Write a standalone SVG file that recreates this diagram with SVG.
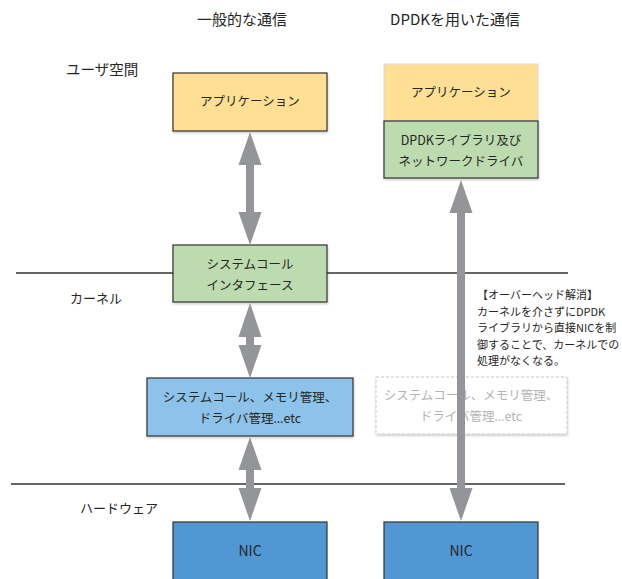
<svg xmlns="http://www.w3.org/2000/svg" width="622" height="579" viewBox="0 0 622 579">
<style>
text{font-family:"Noto Sans CJK JP","Noto Sans",sans-serif;fill:#262626}
.t{font-size:15px;text-anchor:middle}
.lbl{font-size:13px}
.b{font-size:12.5px;text-anchor:middle}
.n{font-size:11px}
.el{font-family:"Noto Sans",sans-serif}
.box{stroke:#333;stroke-width:1.2}
.arr{fill:#939598}
.ln{stroke:#333;stroke-width:1.3}
</style>
<defs>
<filter id="sh" x="-10%" y="-10%" width="130%" height="140%"><feDropShadow dx="0.5" dy="1.5" stdDeviation="1.2" flood-color="#000" flood-opacity="0.2"/></filter>
</defs>
<rect width="622" height="579" fill="#fff"/>
<text class="t" x="242" y="25">一般的な通信</text>
<text class="t" x="455" y="25">DPDKを用いた通信</text>
<text class="lbl" x="66" y="75" style="font-size:14.5px">ユーザ空間</text>
<text class="lbl" x="70" y="303">カーネル</text>
<text class="lbl" x="80" y="513">ハードウェア</text>
<g id="lines">
<line class="ln" x1="16" y1="273" x2="568" y2="273"/>
<line class="ln" x1="11" y1="484" x2="565" y2="484"/>
</g>
<g id="app-left"><rect class="box" x="173" y="73" width="154" height="58" fill="#FEDF94" filter="url(#sh)"/><text class="b" x="250" y="106">アプリケーション</text></g>
<g id="app-right"><rect x="384" y="64" width="154" height="57" fill="#FEDF94" stroke="#d9d9d9" stroke-width="1"/><text class="b" x="461" y="97">アプリケーション</text></g>
<g id="dpdk"><rect class="box" x="384" y="121" width="154" height="57" fill="#BCDCB0" filter="url(#sh)"/><text class="b" x="461" y="145">DPDKライブラリ及び</text><text class="b" x="461" y="166">ネットワークドライバ</text></g>
<g id="syscall"><rect class="box" x="173" y="245" width="154" height="57" fill="#BCDCB0" filter="url(#sh)"/><text class="b" x="250" y="269">システムコール</text><text class="b" x="250" y="290">インタフェース</text></g>
<g id="kernel"><rect class="box" x="147" y="378" width="206" height="58" fill="#8DC3EA" filter="url(#sh)"/><text class="b" x="250" y="402">システムコール、メモリ管理、</text><text class="b" x="250" y="423">ドライバ管理<tspan class="el">…</tspan>etc</text></g>
<g id="kernel-ghost"><rect x="376" y="377" width="191" height="57" fill="#fff" stroke="#c8c8c8" stroke-width="1" stroke-dasharray="3,2" filter="url(#sh)"/><text class="b" x="471" y="400" style="fill:#b4b4b4">システムコール、メモリ管理、</text><text class="b" x="471" y="421" style="fill:#b4b4b4">ドライバ管理<tspan class="el" style="fill:#b4b4b4">…</tspan>etc</text></g>
<g id="nic-left"><rect class="box" x="173" y="522" width="154" height="62" fill="#5197D3"/><text class="b" x="250" y="556" style="font-size:14px">NIC</text></g>
<g id="nic-right"><rect class="box" x="384" y="522" width="154" height="62" fill="#5197D3"/><text class="b" x="461" y="556" style="font-size:14px">NIC</text></g>
<g id="connectors">
<polygon class="arr" points="250,132 261.5,165 254,165 254,212 261.5,212 250,245 238.5,212 246,212 246,165 238.5,165"/>
<polygon class="arr" points="250,303 261.5,337 254,337 254,345 261.5,345 250,378 238.5,345 246,345 246,337 238.5,337"/>
<polygon class="arr" points="250,437 261.5,470 254,470 254,488 261.5,488 250,521 238.5,488 246,488 246,470 238.5,470"/>
<polygon class="arr" points="461,180 472.5,213 465,213 465,488 472.5,488 461,521 449.5,488 457,488 457,213 449.5,213"/>
</g>
<g id="note">
<text class="n" x="477" y="299">【オーバーヘッド解消】</text>
<text class="n" x="477" y="315.5">カーネルを介さずにDPDK</text>
<text class="n" x="477" y="332">ライブラリから直接NICを制</text>
<text class="n" x="477" y="348.5">御することで、カーネルでの</text>
<text class="n" x="477" y="365">処理がなくなる。</text>
</g>
</svg>
